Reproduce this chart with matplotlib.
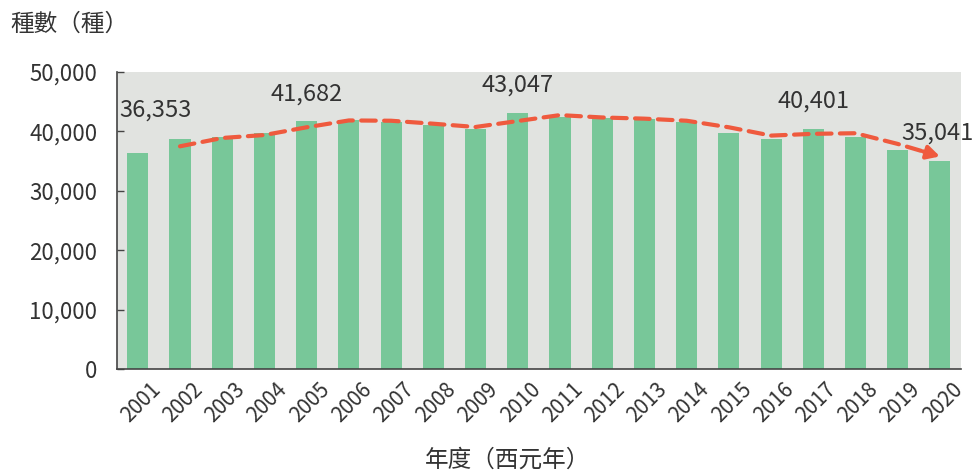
import matplotlib
matplotlib.use("Agg")
import matplotlib.pyplot as plt
import matplotlib.transforms as mtransforms

plt.rcParams['font.family'] = ['Noto Sans CJK TC', 'DejaVu Sans']

# Data
years = ['2001', '2002', '2003', '2004', '2005', '2006', '2007', '2008', '2009', '2010',
         '2011', '2012', '2013', '2014', '2015', '2016', '2017', '2018', '2019', '2020']
species = [36353, 38700, 39080, 39800, 41682, 42000, 41550, 41100, 40420, 43047,
           42440, 42270, 42050, 41600, 39750, 38800, 40401, 39030, 36840, 35041]
# trend line (dashed, starts at 2002)
trend_years = years[1:]
trend = [37500, 38900, 39400, 40700, 41850, 41800, 41300, 40750, 41750,
         42750, 42350, 42150, 41800, 40700, 39300, 39600, 39700, 37900, 35800]
labelled = ['2001', '2005', '2010', '2017', '2020']

bar_color = '#78c799'
line_color = '#ef5a3e'
text_color = '#333333'

fig = plt.figure(figsize=(9.74, 4.72), dpi=100)
ax = fig.add_axes([0.1198, 0.2176, 0.8669, 0.6299])
ax.set_facecolor('#e1e3e0')

x = list(range(len(years)))
ax.bar(x, species, width=0.5, color=bar_color, zorder=2)

tx = [years.index(y) for y in trend_years]
ax.plot(tx[:-1] + [tx[-1] - 0.25], trend[:-1] + [trend[-1] + 0.25 * (trend[-2] - trend[-1])],
        color=line_color, lw=3, ls=(0, (3.5, 2)), dash_capstyle='round', zorder=3)
ax.annotate('', xy=(tx[-1], trend[-1]),
            xytext=(tx[-1] - 0.4, trend[-1] + 0.4 * (trend[-2] - trend[-1])),
            arrowprops=dict(arrowstyle='-|>,head_length=0.75,head_width=0.4',
                            color=line_color, lw=3, shrinkA=0, shrinkB=0),
            zorder=4)

# value labels over a few bars
for yr in labelled:
    i = years.index(yr)
    dx = 13 if i == 0 else (-2 if i == len(years) - 1 else 0)
    dy = 31 if i == 0 else 20
    ax.annotate(f'{species[i]:,}', xy=(i, species[i]), xytext=(dx, dy),
                textcoords='offset points', ha='center', va='center',
                fontsize=17, color=text_color, zorder=5)

ax.set_xlim(-0.5, 19.5)
ax.set_ylim(0, 50000)
ax.set_yticks(range(0, 50001, 10000))
ax.set_yticklabels([f'{v:,}' for v in range(0, 50001, 10000)])
ax.set_xticks(x)
ax.set_xticklabels(years)

ax.tick_params(axis='y', direction='in', length=5, width=1, color='#444444',
               labelsize=16, labelcolor=text_color, pad=14)
ax.tick_params(axis='x', length=0, labelsize=15, labelcolor=text_color, pad=4,
               labelrotation=45)
offset = mtransforms.ScaledTranslation(14 / 72, -8 / 72, fig.dpi_scale_trans)
for lab in ax.get_xticklabels():
    lab.set_ha('right')
    lab.set_va('center')
    lab.set_rotation_mode('anchor')
    lab.set_transform(lab.get_transform() + offset)

for side in ['top', 'right']:
    ax.spines[side].set_visible(False)
for side in ['left', 'bottom']:
    ax.spines[side].set_color('#444444')
    ax.spines[side].set_linewidth(1.2)

fig.text(10 / 974, 1 - 24 / 472, '種數（種）', fontsize=17, color=text_color,
         ha='left', va='center')
fig.text(508 / 974, 1 - 460 / 472, '年度（西元年）', fontsize=17, color=text_color,
         ha='center', va='center')

fig.savefig('out.png', dpi=100)
